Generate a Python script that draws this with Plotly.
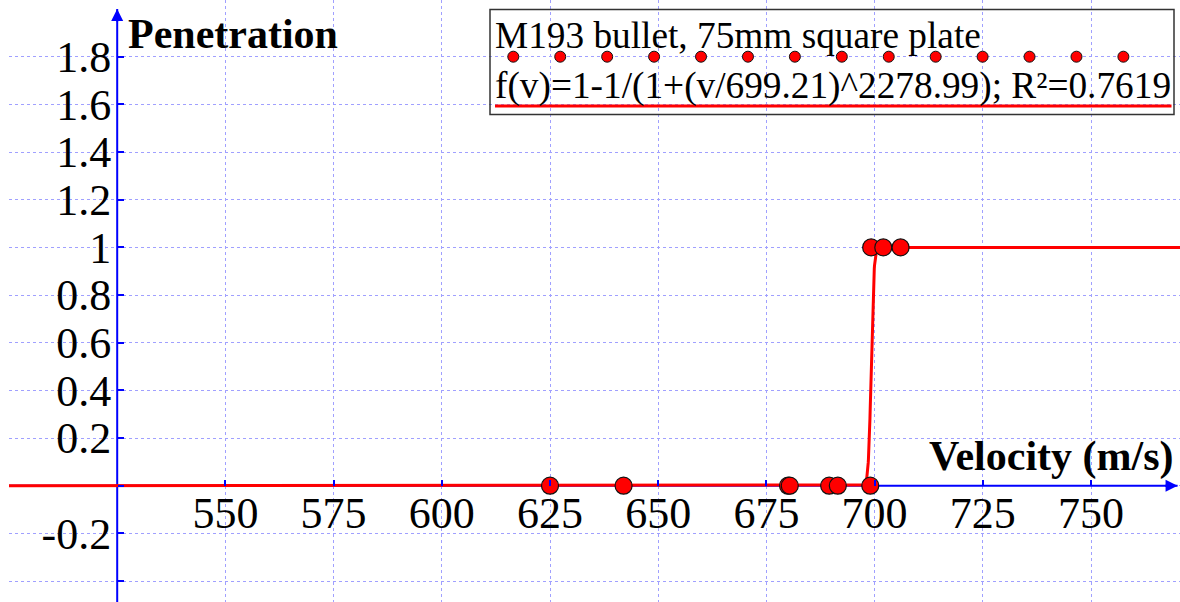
import numpy as np
import plotly.graph_objects as go

# ---- data ----
velocity = [625, 642, 680, 680.4, 689.5, 691.5, 699, 699.2, 702, 706]
penetration = [0, 0, 0, 0, 0, 0, 0, 1, 1, 1]

# fitted model shown in legend
fit_v0 = 699.21
fit_k = 2278.99
fit_label = "f(v)=1-1/(1+(v/699.21)^2278.99); R²=0.7619"
series_label = "M193 bullet, 75mm square plate"

x_ticks = [550, 575, 600, 625, 650, 675, 700, 725, 750]
y_ticks = [-0.4, -0.2, 0, 0.2, 0.4, 0.6, 0.8, 1, 1.2, 1.4, 1.6, 1.8]
y_ticktext = ["", "-0.2", "", "0.2", "0.4", "0.6", "0.8", "1", "1.2", "1.4", "1.6", "1.8"]

W, H = 1180, 602
ML = 9
X_RANGE = [500, 770.56]
Y_RANGE = [-0.488, 2.038]
AX_X = 525  # where y axis crosses

v_fit = np.concatenate([np.linspace(500, 690, 60), np.linspace(690, 710, 400), np.linspace(710, 770.56, 40)])
f_fit = 1 - 1 / (1 + (v_fit / fit_v0) ** fit_k)

BLUE = "#0000ff"
RED = "#ff0000"
GRID = "#a0a0ff"
SERIF = "Liberation Serif"

def px_x(p):
    return (p - ML) / (W - ML)

def px_y(p):
    return 1 - p / H

fig = go.Figure()

fig.add_trace(go.Scatter(x=v_fit, y=f_fit, mode="lines",
                         line=dict(color=RED, width=3), showlegend=False, hoverinfo="skip"))
fig.add_trace(go.Scatter(x=velocity, y=penetration, mode="markers",
                         marker=dict(color=RED, size=17, line=dict(color="#111111", width=1.2)),
                         showlegend=False))

xpos = (0 - Y_RANGE[0]) / (Y_RANGE[1] - Y_RANGE[0])
ypos = (AX_X - X_RANGE[0]) / (X_RANGE[1] - X_RANGE[0])

fig.update_layout(
    width=W, height=H,
    margin=dict(l=ML, r=0, t=0, b=0),
    paper_bgcolor="white", plot_bgcolor="white",
    xaxis=dict(range=X_RANGE, tickvals=x_ticks, ticktext=[str(t) for t in x_ticks],
               anchor="free", position=xpos, showline=False, zeroline=False,
               showgrid=True, gridcolor=GRID, griddash="dot", gridwidth=1,
               ticks="inside", ticklen=6, tickwidth=1.5, tickcolor=BLUE,
               tickfont=dict(family=SERIF, size=44, color="black"),
               ticklabelstandoff=-3),
    yaxis=dict(range=Y_RANGE, tickvals=y_ticks, ticktext=y_ticktext,
               anchor="free", position=ypos, showline=False, zeroline=False,
               showgrid=True, gridcolor=GRID, griddash="dot", gridwidth=1,
               ticks="inside", ticklen=6, tickwidth=1.5, tickcolor=BLUE,
               tickfont=dict(family=SERIF, size=44, color="black"),
               ticklabelstandoff=6),
)

# axis lines
fig.add_shape(type="line", x0=X_RANGE[0], x1=770, y0=0, y1=0, xref="x", yref="y",
              line=dict(color=BLUE, width=2), layer="between")
fig.add_shape(type="line", x0=AX_X, x1=AX_X, y0=Y_RANGE[0], y1=2.0, xref="x", yref="y",
              line=dict(color=BLUE, width=2), layer="between")
# arrowheads
fig.add_annotation(x=770, y=0, ax=-14, ay=0, xref="x", yref="y", text="", showarrow=True,
                   arrowhead=2, arrowsize=1.2, arrowwidth=2, arrowcolor=BLUE)
fig.add_annotation(x=AX_X, y=2.0, ax=0, ay=14, xref="x", yref="y", text="", showarrow=True,
                   arrowhead=2, arrowsize=1.2, arrowwidth=2, arrowcolor=BLUE)

# axis titles
fig.add_annotation(x=px_x(126), y=px_y(34), xref="paper", yref="paper", text="<b>Penetration</b>",
                   showarrow=False, xanchor="left", yanchor="middle",
                   font=dict(family=SERIF, size=42, color="black"))
fig.add_annotation(x=px_x(1176), y=px_y(456), xref="paper", yref="paper", text="<b>Velocity (m/s)</b>",
                   showarrow=False, xanchor="right", yanchor="middle",
                   font=dict(family=SERIF, size=42, color="black"))

# legend box
fig.add_shape(type="rect", x0=px_x(490), x1=px_x(1174), y0=px_y(9.5), y1=px_y(114.5),
              xref="paper", yref="paper", line=dict(color="#333333", width=1.5), layer="above")
fig.add_annotation(x=px_x(493), y=px_y(36), xref="paper", yref="paper", text=series_label,
                   showarrow=False, xanchor="left", yanchor="middle",
                   font=dict(family=SERIF, size=37.3, color="black"))
fig.add_annotation(x=px_x(493), y=px_y(86), xref="paper", yref="paper", text=fit_label,
                   showarrow=False, xanchor="left", yanchor="middle",
                   font=dict(family=SERIF, size=37.3, color="black"))
for i in range(14):
    cx = 513.3 + i * 46.93
    fig.add_shape(type="circle", x0=px_x(cx - 5.5), x1=px_x(cx + 5.5), y0=px_y(56.7 - 5.5), y1=px_y(56.7 + 5.5),
                  xref="paper", yref="paper", fillcolor=RED, line=dict(color="#111111", width=1), layer="above")
fig.add_shape(type="line", x0=px_x(495), x1=px_x(1171.5), y0=px_y(106), y1=px_y(106),
              xref="paper", yref="paper", line=dict(color=RED, width=3), layer="above")

fig.write_html("out.html", config={"displayModeBar": False},
               post_script="document.body.style.margin='0';document.body.style.overflow='hidden';")
